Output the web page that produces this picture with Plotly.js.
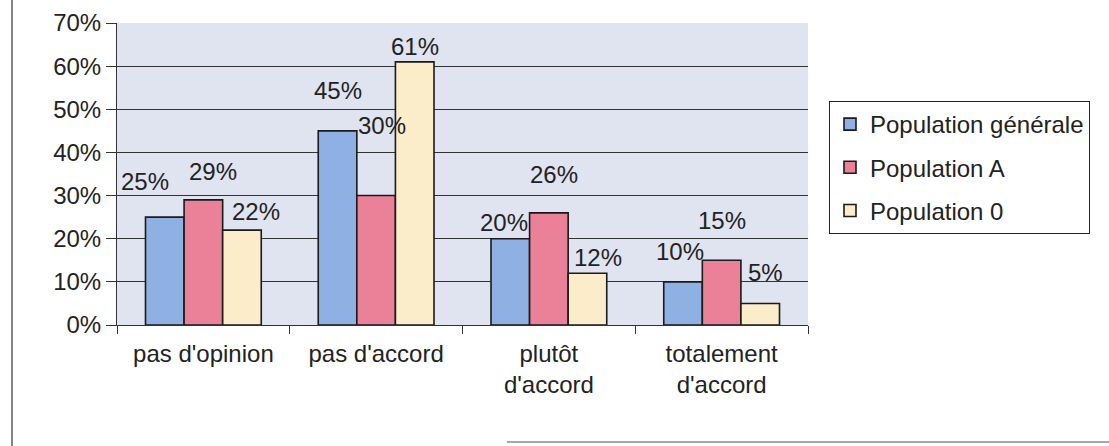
<!DOCTYPE html>
<html>
<head>
<meta charset="utf-8">
<script src="https://cdn.plot.ly/plotly-3.0.1.min.js"></script>
<style>html,body{margin:0;padding:0;background:#fff;}#chart{width:1109px;height:446px;}</style>
</head>
<body>
<div id="chart"></div>
<script>
// ---- data ----
const categories = ["pas d'opinion", "pas d'accord", "plutôt<br>d'accord", "totalement<br>d'accord"];
const seriesNames = ["Population générale", "Population A", "Population 0"];
const popGenerale = [0.25, 0.45, 0.20, 0.10];
const popA = [0.29, 0.30, 0.26, 0.15];
const pop0 = [0.22, 0.61, 0.12, 0.05];
const yTickVals = [0, 0.1, 0.2, 0.3, 0.4, 0.5, 0.6, 0.7];

// ---- styles ----
const colors = ["#8fb0e2", "#ea8199", "#fcedca"];
// label offsets in px relative to each bar top (dx, dy up), mimicking the scanned Excel layout
const labelShift = [
  [[-20, 36], [0, 40], [-6, 16], [-3, 30]],
  [[10, 28], [6, 70], [5, 38], [0, 40]],
  [[14, 19], [0, 15], [11, 16], [5, 31]]
];
const font = "Liberation Sans, Arial, sans-serif";
const fs = 24;
const bargap = 0.33;

const allSeries = [popGenerale, popA, pop0];
const traces = allSeries.map((vals, i) => ({
  type: 'bar',
  name: seriesNames[i],
  x: categories,
  y: vals,
  legendgroup: 'g' + i,
  marker: {color: colors[i], line: {color: '#1a1a1a', width: 1.6}},
  hoverinfo: 'none'
}));

const bw = (1 - bargap) / 3;
const annotations = [];
allSeries.forEach((vals, i) => {
  vals.forEach((v, j) => {
    annotations.push({
      xref: 'x', yref: 'y',
      x: j + (i - 1) * bw, y: v,
      text: Math.round(v * 100) + '%',
      showarrow: false,
      xanchor: 'center', yanchor: 'middle',
      xshift: labelShift[i][j][0], yshift: labelShift[i][j][1],
      font: {family: font, size: fs, color: '#222'}
    });
  });
});

const layout = {
  width: 1109, height: 446,
  margin: {l: 117, r: 301, t: 23, b: 121},
  paper_bgcolor: '#ffffff',
  plot_bgcolor: '#e0e3f0',
  barmode: 'group',
  bargap: bargap,
  bargroupgap: 0,
  font: {family: font, size: fs, color: '#222'},
  xaxis: {
    type: 'category',
    showline: true, linecolor: '#333', linewidth: 1,
    ticks: 'outside', tickson: 'boundaries', ticklen: 8, tickcolor: '#333',
    ticklabelstandoff: 7,
    tickfont: {family: font, size: fs, color: '#222'},
    showgrid: false, zeroline: false
  },
  yaxis: {
    range: [0, 0.7],
    tickvals: yTickVals,
    tickformat: '.0%',
    showline: true, linecolor: '#333', linewidth: 1,
    ticks: 'outside', ticklen: 10, tickcolor: '#333',
    tickfont: {family: font, size: fs, color: '#222'},
    showgrid: true, gridcolor: '#333', gridwidth: 1,
    zeroline: false
  },
  legend: {
    xref: 'container', yref: 'container',
    x: 829 / 1109, y: 1 - 101 / 446,
    xanchor: 'left', yanchor: 'top',
    bgcolor: '#ffffff', bordercolor: '#222', borderwidth: 1,
    font: {family: font, size: fs, color: '#222'},
    traceorder: 'grouped', tracegroupgap: 9
  },
  showlegend: true,
  annotations: annotations,
  shapes: [
    {type: 'line', xref: 'paper', yref: 'paper', xsizemode: 'pixel', ysizemode: 'pixel',
     xanchor: 0, yanchor: 0, x0: -105, x1: -105, y0: -121, y1: 423, line: {color: '#333', width: 1.2}},
    {type: 'line', xref: 'paper', yref: 'paper', xsizemode: 'pixel', ysizemode: 'pixel',
     xanchor: 0, yanchor: 0, x0: 390, x1: 992, y0: -117, y1: -117, line: {color: '#555', width: 1.2}}
  ]
};

Plotly.newPlot('chart', traces, layout, {displayModeBar: false, staticPlot: true});
</script>
</body>
</html>
